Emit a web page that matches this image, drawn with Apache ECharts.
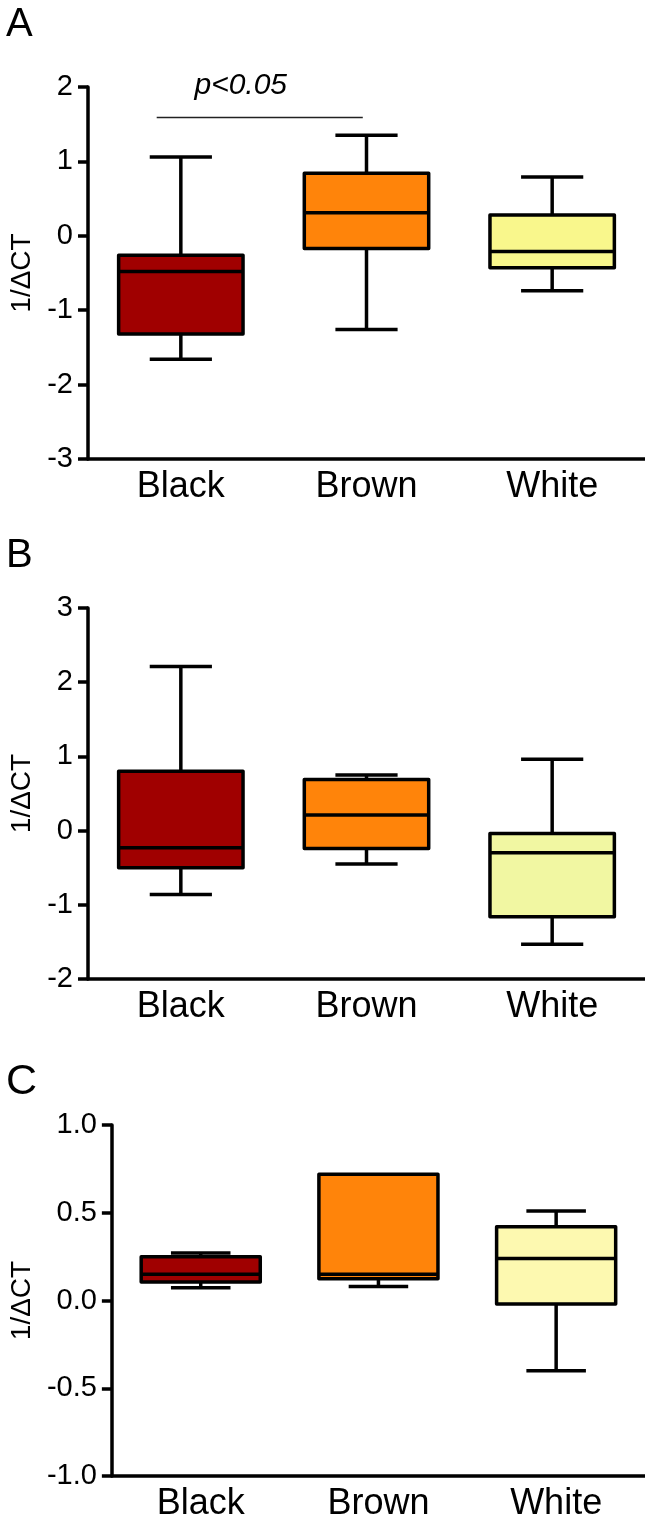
<!DOCTYPE html>
<html>
<head>
<meta charset="utf-8">
<script src="https://cdn.jsdelivr.net/npm/echarts@6/dist/echarts.min.js"></script>
<style>
  html, body { margin: 0; padding: 0; background: #fff; }
  #main { width: 645px; height: 1522px; }
</style>
</head>
<body>
<div id="main"></div>
<script>
// groups on the x axis
var cats = ['Black', 'Brown', 'White'];
// each row: [min, Q1, median, Q3, max]
var boxA = [[-1.66, -1.32, -0.48, -0.26, 1.06], [-1.26, -0.17, 0.31, 0.84, 1.35], [-0.74, -0.43, -0.21, 0.28, 0.79]];
var boxB = [[-0.86, -0.50, -0.23, 0.80, 2.21], [-0.45, -0.24, 0.21, 0.69, 0.75], [-1.53, -1.16, -0.30, -0.04, 0.96]];
var boxC = [[0.073, 0.105, 0.15, 0.25, 0.27], [0.08, 0.124, 0.15, 0.72, 0.72], [-0.40, -0.02, 0.24, 0.42, 0.51]];
// y ranges [min, max, step]
var rangeA = [-3, 2, 1];
var rangeB = [-2, 3, 1];
var rangeC = [-1, 1, 0.5];
// significance bar in panel A: from group, to group, height, label
var sigA = [0, 1, 1.59, 'p<0.05'];
var yName = '1/ΔCT';
var panelNames = ['A', 'B', 'C'];

var fillA = ['#A00000', '#FF840A', '#F9F78C'];
var fillB = ['#A00000', '#FF840A', '#F1F7A2'];
var fillC = ['#A00000', '#FF840A', '#FDF9B0'];
var font = '"Liberation Sans", Arial, sans-serif';
var lw = 3.5;

var chart = echarts.init(document.getElementById('main'));

function rows(box) {
    var out = [];
    for (var i = 0; i < box.length; i++) {
        out.push([i].concat(box[i]));
    }
    return out;
}

function boxRender(fills) {
    return function (params, api) {
        var i = api.value(0);
        var lo = api.coord([i, api.value(1)]);
        var q1 = api.coord([i, api.value(2)]);
        var md = api.coord([i, api.value(3)]);
        var q3 = api.coord([i, api.value(4)]);
        var hi = api.coord([i, api.value(5)]);
        var bw = api.size([1, 0])[0] * 0.67;
        var cx = md[0];
        var ln = { stroke: '#000', lineWidth: lw };
        var kids = [];
        if (hi[1] < q3[1] - 1) {
            kids.push({ type: 'line', shape: { x1: cx, y1: hi[1], x2: cx, y2: q3[1] }, style: ln });
            kids.push({ type: 'line', shape: { x1: cx - bw / 4, y1: hi[1], x2: cx + bw / 4, y2: hi[1] }, style: ln });
        }
        if (lo[1] > q1[1] + 1) {
            kids.push({ type: 'line', shape: { x1: cx, y1: q1[1], x2: cx, y2: lo[1] }, style: ln });
            kids.push({ type: 'line', shape: { x1: cx - bw / 4, y1: lo[1], x2: cx + bw / 4, y2: lo[1] }, style: ln });
        }
        kids.push({
            type: 'rect',
            shape: { x: cx - bw / 2, y: q3[1], width: bw, height: q1[1] - q3[1] },
            style: { fill: fills[params.dataIndex], stroke: '#000', lineWidth: lw, lineJoin: 'round' }
        });
        kids.push({ type: 'line', shape: { x1: cx - bw / 2, y1: md[1], x2: cx + bw / 2, y2: md[1] }, style: ln });
        return { type: 'group', children: kids };
    };
}

function sigRender(params, api) {
    var a = api.coord([api.value(0), api.value(2)]);
    var b = api.coord([api.value(1), api.value(2)]);
    var band = api.size([1, 0])[0];
    var x1 = a[0] - band * 0.13;
    var x2 = b[0] - band * 0.02;
    return {
        type: 'group',
        children: [
            { type: 'line', shape: { x1: x1, y1: a[1], x2: x2, y2: a[1] }, style: { stroke: '#222', lineWidth: 1.5 } },
            {
                type: 'text',
                x: (x1 + x2) / 2 - 19, y: a[1] - 32,
                style: { text: sigA[3], font: 'italic 30px ' + font, fill: '#000', align: 'center', verticalAlign: 'middle' }
            }
        ]
    };
}

function xAx(gi) {
    return {
        type: 'category', gridIndex: gi, data: cats, boundaryGap: true,
        axisLine: { onZero: false, lineStyle: { color: '#000', width: lw } },
        axisTick: { show: false },
        axisLabel: { color: '#000', fontSize: 36, fontFamily: font, margin: 10 },
        splitLine: { show: false }
    };
}

function yAx(gi, r, gap, dec) {
    return {
        type: 'value', gridIndex: gi, min: r[0], max: r[1], interval: r[2],
        name: yName, nameLocation: 'middle', nameGap: gap, nameRotate: 90,
        nameTextStyle: { color: '#000', fontSize: 28, fontFamily: font },
        axisLine: { show: true, onZero: false, lineStyle: { color: '#000', width: lw } },
        axisTick: { show: true, length: 10, lineStyle: { color: '#000', width: lw } },
        axisLabel: {
            color: '#000', fontSize: 29, fontFamily: font, margin: 15,
            formatter: function (v) { return dec ? v.toFixed(1) : String(v); }
        },
        splitLine: { show: false }
    };
}

function titleAt(text, top, size) {
    return { text: text, left: 6, top: top, padding: 0, textStyle: { fontSize: size, fontWeight: 'normal', color: '#000', fontFamily: font } };
}

var option = {
    animation: false,
    backgroundColor: '#fff',
    title: [titleAt(panelNames[0], 5, 40), titleAt(panelNames[1], 536, 40), titleAt(panelNames[2], 1061, 43)],
    grid: [
        { left: 86, right: 0, top: 87, height: 372 },
        { left: 86, right: 0, top: 608, height: 371 },
        { left: 108, right: 0, top: 1125, height: 358 }
    ],
    xAxis: [xAx(0), xAx(1), xAx(2)],
    yAxis: [yAx(0, rangeA, 52, false), yAx(1, rangeB, 52, false), yAx(2, rangeC, 74, true)],
    series: [
        { type: 'custom', xAxisIndex: 0, yAxisIndex: 0, renderItem: sigRender, data: [[sigA[0], sigA[1], sigA[2]]], encode: { x: [0, 1], y: 2 }, clip: false },
        { type: 'custom', xAxisIndex: 0, yAxisIndex: 0, renderItem: boxRender(fillA), data: rows(boxA), encode: { x: 0, y: [1, 2, 3, 4, 5] } },
        { type: 'custom', xAxisIndex: 1, yAxisIndex: 1, renderItem: boxRender(fillB), data: rows(boxB), encode: { x: 0, y: [1, 2, 3, 4, 5] } },
        { type: 'custom', xAxisIndex: 2, yAxisIndex: 2, renderItem: boxRender(fillC), data: rows(boxC), encode: { x: 0, y: [1, 2, 3, 4, 5] } }
    ]
};

chart.setOption(option);
</script>
</body>
</html>
